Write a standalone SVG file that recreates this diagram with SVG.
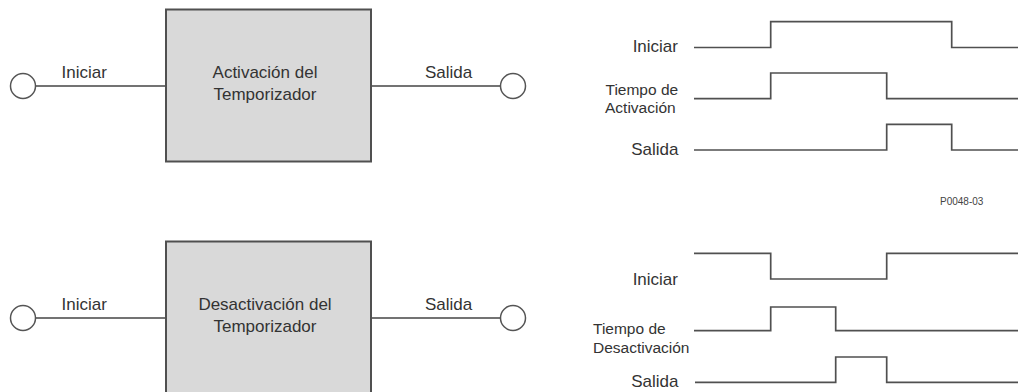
<svg xmlns="http://www.w3.org/2000/svg" width="1018" height="392" viewBox="0 0 1018 392">
<style>
text{font-family:"Liberation Sans",Arial,sans-serif;fill:#333}
.lbl{font-size:17px}
.sm{font-size:15.5px}
.box{fill:#d9d9d9;stroke:#505050;stroke-width:2}
.term{fill:#fff;stroke:#555;stroke-width:1.5}
.wire{stroke:#444;stroke-width:1.5;fill:none}
.wave{stroke:#505050;stroke-width:1.7;fill:none}
</style>
<rect width="1018" height="392" fill="#fff"/>

<g id="connectors">
<line class="wire" x1="35.5" y1="86" x2="166" y2="86"/>
<line class="wire" x1="371" y1="86" x2="500.5" y2="86"/>
<line class="wire" x1="35.5" y1="318" x2="166" y2="318"/>
<line class="wire" x1="371" y1="318" x2="500.5" y2="318"/>
</g>

<g id="in-activacion"><circle class="term" cx="23" cy="86" r="12.5"/><text class="lbl" x="61.5" y="78">Iniciar</text></g>
<g id="out-activacion"><circle class="term" cx="513" cy="86" r="12.5"/><text class="lbl" x="425" y="78">Salida</text></g>
<g id="box-activacion">
<rect class="box" x="166" y="9.5" width="205" height="152"/>
<text class="lbl" x="265" y="78" text-anchor="middle">Activación del</text>
<text class="lbl" x="265" y="100" text-anchor="middle">Temporizador</text>
</g>

<g id="in-desactivacion"><circle class="term" cx="23" cy="318" r="12.5"/><text class="lbl" x="61.5" y="310">Iniciar</text></g>
<g id="out-desactivacion"><circle class="term" cx="513" cy="318" r="12.5"/><text class="lbl" x="425" y="310">Salida</text></g>
<g id="box-desactivacion">
<rect class="box" x="166" y="241.5" width="205" height="160"/>
<text class="lbl" x="265" y="310" text-anchor="middle">Desactivación del</text>
<text class="lbl" x="265" y="332" text-anchor="middle">Temporizador</text>
</g>

<g id="timing-activacion">
<text class="lbl" x="678" y="52" text-anchor="end">Iniciar</text>
<polyline class="wave" points="694,47.5 770.7,47.5 770.7,21.7 951.7,21.7 951.7,47.5 1018,47.5"/>
<text class="sm" x="605.5" y="95">Tiempo de</text>
<text class="sm" x="605" y="113">Activación</text>
<polyline class="wave" points="694,98.7 770.7,98.7 770.7,73 886.7,73 886.7,98.7 1018,98.7"/>
<text class="lbl" x="678.5" y="154.5" text-anchor="end">Salida</text>
<polyline class="wave" points="694,150 886.7,150 886.7,124.3 951.7,124.3 951.7,150 1018,150"/>
</g>

<text x="940" y="205" font-size="10" style="fill:#444">P0048-03</text>

<g id="timing-desactivacion">
<text class="lbl" x="678" y="284.5" text-anchor="end">Iniciar</text>
<polyline class="wave" points="694,253.3 770.7,253.3 770.7,279 886.7,279 886.7,253.3 1018,253.3"/>
<text class="sm" x="593" y="334">Tiempo de</text>
<text class="sm" x="593" y="353">Desactivación</text>
<polyline class="wave" points="694,330.7 770.7,330.7 770.7,307 835.7,307 835.7,330.7 1018,330.7"/>
<text class="lbl" x="678.5" y="387" text-anchor="end">Salida</text>
<polyline class="wave" points="695,382.3 835.7,382.3 835.7,357 886.7,357 886.7,382.3 1018,382.3"/>
</g>
</svg>
